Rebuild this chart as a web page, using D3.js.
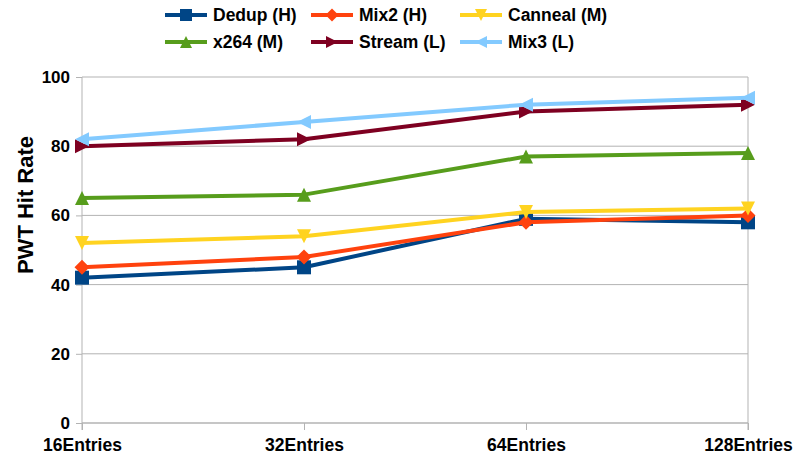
<!DOCTYPE html>
<html>
<head>
<meta charset="utf-8">
<script src="https://cdn.jsdelivr.net/npm/d3@7"></script>
<style>
  html, body { margin: 0; padding: 0; background: #fff; }
  svg { display: block; font-family: "Liberation Sans", Arial, sans-serif; }
</style>
</head>
<body>
<svg id="chart" width="793" height="459"></svg>
<script>
// Cache size categories and hit rates per workload
const categories = ["16Entries", "32Entries", "64Entries", "128Entries"];
const seriesNames = ["Dedup (H)", "Mix2 (H)", "Canneal (M)", "x264 (M)", "Stream (L)", "Mix3 (L)"];
const dedup   = [42, 45, 59, 58];
const mix2    = [45, 48, 58, 60];
const canneal = [52, 54, 61, 62];
const x264    = [65, 66, 77, 78];
const stream  = [80, 82, 90, 92];
const mix3    = [82, 87, 92, 94];
const yTicks  = [0, 20, 40, 60, 80, 100];
const yTitle  = "PWT Hit Rate";

const colors  = ["#004586", "#ff420e", "#ffd320", "#579d1c", "#7e0021", "#83caff"];
const shapes  = ["square", "diamond", "down", "up", "right", "left"];

const series = [dedup, mix2, canneal, x264, stream, mix3].map((v, i) => ({
  name: seriesNames[i], values: v, color: colors[i], shape: shapes[i]
}));

const svg = d3.select("#chart");
const margin = { left: 82, right: 45, top: 77, bottom: 36 };
const W = 793, H = 459;

const x = d3.scalePoint().domain(categories).range([margin.left, W - margin.right]);
const y = d3.scaleLinear().domain([0, 100]).range([H - margin.bottom, margin.top]);

// horizontal grid lines
svg.append("g").selectAll("line").data(yTicks).join("line")
  .attr("x1", margin.left).attr("x2", W - margin.right)
  .attr("y1", d => y(d)).attr("y2", d => y(d))
  .attr("stroke", "#b3b3b3").attr("stroke-width", 1);

// right border line
svg.append("line")
  .attr("x1", W - margin.right).attr("x2", W - margin.right)
  .attr("y1", y(100)).attr("y2", y(0) + 7)
  .attr("stroke", "#b3b3b3");

// y axis
const yAxis = d3.axisLeft(y).tickValues(yTicks).tickSize(6).tickPadding(6);
const gy = svg.append("g").attr("transform", `translate(${margin.left},0)`).call(yAxis);
gy.select(".domain").attr("d", `M0,${y(100)}V${y(0) + 7}`).attr("stroke", "#b3b3b3");
gy.selectAll(".tick line").attr("stroke", "#b3b3b3");
gy.selectAll(".tick text").attr("fill", "#000").style("font-size", "17px").style("font-weight", "bold")
  .style("font-family", "'Liberation Sans', Arial, sans-serif");

// x axis
const xAxis = d3.axisBottom(x).tickSize(7).tickPadding(6);
const gx = svg.append("g").attr("transform", `translate(0,${y(0)})`).call(xAxis);
gx.select(".domain").attr("d", `M${margin.left},0H${W - margin.right}`).attr("stroke", "#b3b3b3");
gx.selectAll(".tick line").attr("stroke", "#b3b3b3");
gx.selectAll(".tick text").attr("fill", "#000").style("font-size", "17.5px").style("font-weight", "bold")
  .style("font-family", "'Liberation Sans', Arial, sans-serif").attr("dy", "0.85em");

// y axis title
svg.append("text")
  .attr("transform", `translate(33,205) rotate(-90)`)
  .attr("text-anchor", "middle")
  .style("font-size", "22px").style("font-weight", "bold")
  .text(yTitle);

// marker paths
function markerPath(shape, s) {
  const h = s / 2;
  switch (shape) {
    case "square":  return `M${-h},${-h}H${h}V${h}H${-h}Z`;
    case "diamond": return `M0,${-h}L${h},0L0,${h}L${-h},0Z`;
    case "down":    return `M${-h},${-h}H${h}L0,${h}Z`;
    case "up":      return `M${-h},${h}H${h}L0,${-h}Z`;
    case "right":   return `M${-h},${-h}L${h},0L${-h},${h}Z`;
    case "left":    return `M${h},${-h}L${-h},0L${h},${h}Z`;
  }
}

const line = d3.line().x((d, i) => x(categories[i])).y(d => y(d));

const gs = svg.append("g").selectAll("g").data(series).join("g");
gs.append("path")
  .attr("d", d => line(d.values))
  .attr("fill", "none").attr("stroke", d => d.color).attr("stroke-width", 4)
  .attr("stroke-linejoin", "round");
gs.each(function (d) {
  d3.select(this).selectAll("path.m").data(d.values).join("path")
    .attr("class", "m")
    .attr("transform", (v, i) => `translate(${x(categories[i])},${y(v)})`)
    .attr("d", markerPath(d.shape, d.shape === "diamond" ? 15 : 14))
    .attr("fill", d.color);
});

// legend
const legX = [165, 311, 460];
const legY = [15, 42];
const leg = svg.append("g").selectAll("g").data(series).join("g")
  .attr("transform", (d, i) => `translate(${legX[i % 3]},${legY[Math.floor(i / 3)]})`);
leg.append("line").attr("x1", 0).attr("x2", 42).attr("y1", 0).attr("y2", 0)
  .attr("stroke", d => d.color).attr("stroke-width", 4);
leg.append("path").attr("transform", "translate(21,0)")
  .attr("d", d => markerPath(d.shape, d.shape === "diamond" ? 13 : 12))
  .attr("fill", d => d.color);
leg.append("text").attr("x", 48).attr("y", 0).attr("dy", "0.35em")
  .style("font-size", "17.5px").style("font-weight", "bold")
  .text(d => d.name);
</script>
</body>
</html>
